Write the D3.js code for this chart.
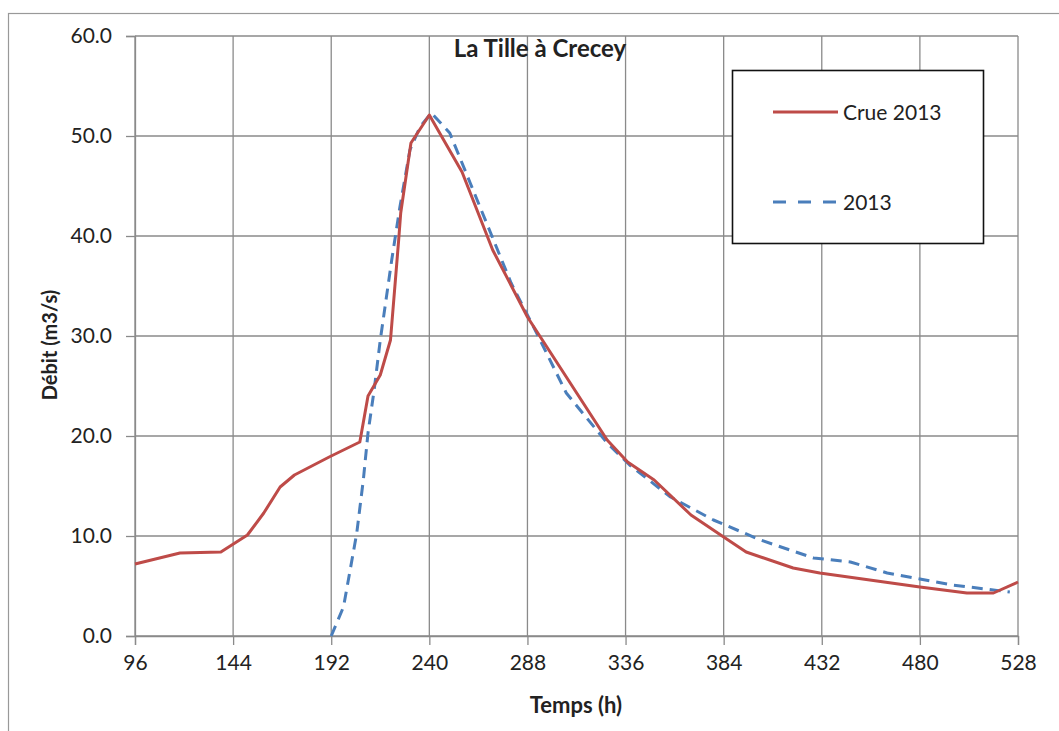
<!DOCTYPE html>
<html>
<head>
<meta charset="utf-8">
<script src="https://cdn.jsdelivr.net/npm/d3@7"></script>
<style>
  html, body { margin: 0; padding: 0; background: #fff; }
  svg { display: block; }
  text { font-family: Lato, "Open Sans", sans-serif; fill: #222; }
</style>
</head>
<body>
<svg id="chart" width="1059" height="731"></svg>
<script>
// ---- Data ----
const title = "La Tille à Crecey";
const xLabel = "Temps (h)";
const yLabel = "Débit (m3/s)";
const xTicks = [96, 144, 192, 240, 288, 336, 384, 432, 480, 528];
const yTicks = [0, 10, 20, 30, 40, 50, 60];

const crueHours = [96, 118, 138, 151, 159, 167, 174, 191, 206, 210, 216, 221, 225, 226, 231, 240, 256, 271, 288, 327, 337, 350, 368, 384, 395, 418, 431, 480, 503, 516, 528];
const crueFlow  = [7.2, 8.3, 8.4, 10.1, 12.3, 14.9, 16.1, 17.9, 19.4, 24.0, 26.1, 29.6, 39.6, 42.3, 49.3, 52.1, 46.4, 38.6, 31.9, 19.6, 17.4, 15.6, 12.1, 9.9, 8.4, 6.8, 6.3, 4.9, 4.3, 4.3, 5.4];

const simHours = [192, 198, 201, 204.5, 207.7, 210, 213, 216, 221.6, 225.6, 230.5, 235.4, 241, 250, 260, 270, 280, 292.5, 307, 327, 338, 358, 379, 402, 428, 446, 464, 496, 524];
const simFlow  = [0, 2.9, 6.3, 10.3, 15.6, 20.3, 24.6, 29.6, 37.6, 42.9, 48.6, 50.9, 52.3, 50.3, 45.3, 40.3, 35.3, 30.3, 24.3, 19.3, 17.1, 13.9, 11.6, 9.6, 7.8, 7.4, 6.3, 5.1, 4.4];

const seriesNames = ["Crue 2013", "2013"];

// ---- Layout ----
const svg = d3.select("#chart");
const plot = { left: 135, right: 1018, top: 36, bottom: 636 };

const x = d3.scaleLinear().domain([96, 528]).range([plot.left, plot.right]);
const y = d3.scaleLinear().domain([0, 60]).range([plot.bottom, plot.top]);

// outer chart border
svg.append("rect")
  .attr("x", 8.5).attr("y", 13.5).attr("width", 1080).attr("height", 760)
  .attr("fill", "none").attr("stroke", "#999").attr("stroke-width", 1.2);

const gridColor = "#8a8a8a";

// gridlines
svg.append("g").selectAll("line.v").data(xTicks).join("line")
  .attr("x1", d => x(d)).attr("x2", d => x(d))
  .attr("y1", plot.top).attr("y2", plot.bottom)
  .attr("stroke", gridColor).attr("stroke-width", 1.3);
svg.append("g").selectAll("line.h").data(yTicks).join("line")
  .attr("x1", plot.left).attr("x2", plot.right)
  .attr("y1", d => y(d)).attr("y2", d => y(d))
  .attr("stroke", gridColor).attr("stroke-width", 1.3);

// axes
const xAxis = d3.axisBottom(x).tickValues(xTicks).tickSize(9).tickPadding(10).tickFormat(d3.format("d"));
const gx = svg.append("g").attr("transform", `translate(0,${plot.bottom})`).call(xAxis);
gx.select(".domain").attr("stroke", gridColor).attr("stroke-width", 1.3);
gx.selectAll(".tick line").attr("stroke", gridColor).attr("stroke-width", 1.3);
gx.selectAll(".tick text").attr("font-size", 21).attr("fill", "#222").attr("font-family", "Lato, sans-serif");

const yAxis = d3.axisLeft(y).tickValues(yTicks).tickSize(9).tickPadding(14).tickFormat(d3.format(".1f"));
const gy = svg.append("g").attr("transform", `translate(${plot.left},0)`).call(yAxis);
gy.select(".domain").attr("stroke", gridColor).attr("stroke-width", 1.3);
gy.selectAll(".tick line").attr("stroke", gridColor).attr("stroke-width", 1.3);
gy.selectAll(".tick text").attr("font-size", 21).attr("fill", "#222").attr("font-family", "Lato, sans-serif");

// lines
const line = d3.line().x(d => x(d[0])).y(d => y(d[1]));
const crueData = crueHours.map((h, i) => [h, crueFlow[i]]);
const simData = simHours.map((h, i) => [h, simFlow[i]]);

svg.append("path").datum(simData).attr("d", line)
  .attr("fill", "none").attr("stroke", "#4a7ebb").attr("stroke-width", 3)
  .attr("stroke-dasharray", "11,7").attr("stroke-linejoin", "round");

svg.append("path").datum(crueData).attr("d", line)
  .attr("fill", "none").attr("stroke", "#be4b48").attr("stroke-width", 3)
  .attr("stroke-linejoin", "round");

// title
svg.append("text").attr("x", 540).attr("y", 57).attr("text-anchor", "middle")
  .attr("font-size", 24).attr("font-weight", "bold").text(title);

// axis titles
svg.append("text").attr("x", 576).attr("y", 713).attr("text-anchor", "middle")
  .attr("font-size", 22).attr("font-weight", "bold").text(xLabel);
svg.append("text").attr("transform", "translate(57,345) rotate(-90)").attr("text-anchor", "middle")
  .attr("font-size", 20).attr("font-weight", "bold").text(yLabel);

// legend
const lg = svg.append("g");
lg.append("rect").attr("x", 732.5).attr("y", 70.5).attr("width", 251).attr("height", 173)
  .attr("fill", "#fff").attr("stroke", "#111").attr("stroke-width", 1.6);
const legendItems = [
  { name: seriesNames[0], color: "#be4b48", dash: null, y: 112 },
  { name: seriesNames[1], color: "#4a7ebb", dash: "13,12", y: 202 }
];
legendItems.forEach(it => {
  lg.append("line").attr("x1", 773).attr("x2", 838).attr("y1", it.y).attr("y2", it.y)
    .attr("stroke", it.color).attr("stroke-width", 3)
    .attr("stroke-dasharray", it.dash);
  lg.append("text").attr("x", 843).attr("y", it.y + 8).attr("font-size", 21).text(it.name);
});
</script>
</body>
</html>
